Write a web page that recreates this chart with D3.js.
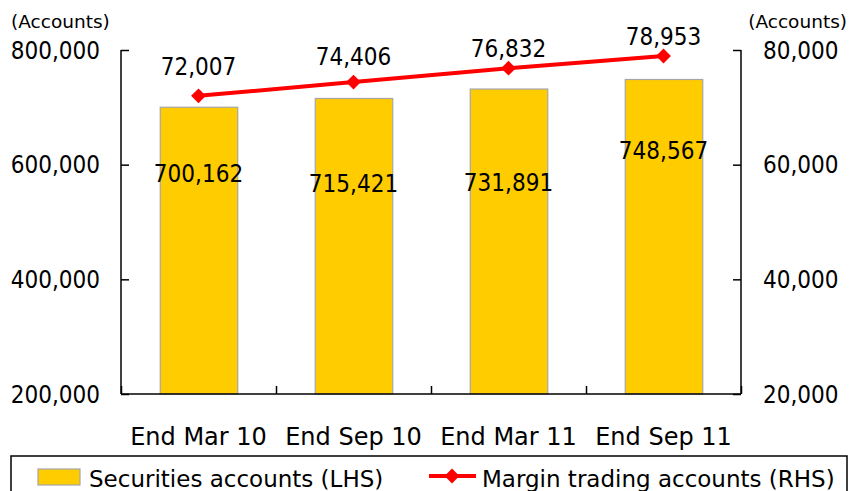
<!DOCTYPE html>
<html>
<head>
<meta charset="utf-8">
<script src="https://cdn.jsdelivr.net/npm/d3@7"></script>
<style>
  html, body { margin: 0; padding: 0; background: #fff; }
  svg { display: block; }
  text { fill: #000; }
</style>
</head>
<body>
<svg id="chart" width="849" height="491"></svg>
<script>
// ---- data ----
const categories = ["End Mar 10", "End Sep 10", "End Mar 11", "End Sep 11"];
const securitiesAccounts = [700162, 715421, 731891, 748567];
const marginAccounts = [72007, 74406, 76832, 78953];
const leftTicks = [200000, 400000, 600000, 800000];
const rightTicks = [20000, 40000, 60000, 80000];
const seriesNames = ["Securities accounts (LHS)", "Margin trading accounts (RHS)"];
const axisTitle = "(Accounts)";

// ---- layout ----
const svg = d3.select("#chart");
const plot = { left: 121, right: 741, top: 50, bottom: 394 };
const numFont = "'DejaVu Sans Condensed', 'DejaVu Sans', sans-serif";
const txtFont = "'DejaVu Sans', sans-serif";
const fmt = d3.format(",");

const x = d3.scaleBand().domain(categories).range([plot.left, plot.right]).paddingInner(0).paddingOuter(0);
const yL = d3.scaleLinear().domain([200000, 800000]).range([plot.bottom, plot.top]);
const yR = d3.scaleLinear().domain([20000, 80000]).range([plot.bottom, plot.top]);
const barW = x.bandwidth() * 0.5;

// bars
svg.append("g").selectAll("rect").data(securitiesAccounts).join("rect")
  .attr("x", (d, i) => x(categories[i]) + x.bandwidth() / 2 - barW / 2 + 0.5)
  .attr("y", d => yL(d))
  .attr("width", barW)
  .attr("height", d => plot.bottom - yL(d))
  .attr("fill", "#FFCC00")
  .attr("stroke", "#A6A6A6")
  .attr("stroke-width", 1.2);

// axes
const axL = svg.append("g").attr("transform", `translate(${plot.left},0)`)
  .call(d3.axisRight(yL).tickValues(leftTicks).tickSize(8).tickFormat(""));
const axR = svg.append("g").attr("transform", `translate(${plot.right},0)`)
  .call(d3.axisLeft(yR).tickValues(rightTicks).tickSize(8).tickFormat(""));
const axB = svg.append("g").attr("transform", `translate(0,${plot.bottom})`)
  .call(d3.axisTop(d3.scaleLinear().domain([0, 4]).range([plot.left, plot.right]))
    .tickValues([0, 1, 2, 3, 4]).tickSize(8).tickFormat(""));
[axL, axR, axB].forEach(g => {
  g.select(".domain").attr("stroke", "#000").attr("stroke-width", 1.5);
  g.selectAll(".tick line").attr("stroke", "#000").attr("stroke-width", 1.5);
});
axL.select(".domain").attr("d", `M0,${plot.top}V${plot.bottom}`);
axR.select(".domain").attr("d", `M0,${plot.top}V${plot.bottom}`);
axB.select(".domain").attr("d", `M${plot.left},0H${plot.right}`);

// left tick labels
svg.append("g").selectAll("text").data(leftTicks).join("text")
  .attr("x", 100).attr("y", d => yL(d)).attr("dy", "0.36em")
  .attr("text-anchor", "end")
  .style("font-family", numFont).style("font-size", "24px")
  .text(d => fmt(d));
// right tick labels
svg.append("g").selectAll("text").data(rightTicks).join("text")
  .attr("x", 763).attr("y", d => yR(d)).attr("dy", "0.36em")
  .attr("text-anchor", "start")
  .style("font-family", numFont).style("font-size", "24px")
  .text(d => fmt(d));

// axis titles
svg.append("text").attr("x", 11).attr("y", 28)
  .style("font-family", txtFont).style("font-size", "18.5px").text(axisTitle);
svg.append("text").attr("x", 847).attr("y", 28).attr("text-anchor", "end")
  .style("font-family", txtFont).style("font-size", "18.5px").text(axisTitle);

// category labels
svg.append("g").selectAll("text").data(categories).join("text")
  .attr("x", d => x(d) + x.bandwidth() / 2).attr("y", 445)
  .attr("text-anchor", "middle")
  .style("font-family", txtFont).style("font-size", "24px")
  .text(d => d);

// line
const cx = i => x(categories[i]) + x.bandwidth() / 2;
const line = d3.line().x((d, i) => cx(i)).y(d => yR(d));
svg.append("path").datum(marginAccounts).attr("d", line)
  .attr("fill", "none").attr("stroke", "#FF0000").attr("stroke-width", 4);
svg.append("g").selectAll("path").data(marginAccounts).join("path")
  .attr("transform", (d, i) => `translate(${cx(i)},${yR(d)}) rotate(45)`)
  .attr("d", d3.symbol().type(d3.symbolSquare).size(110))
  .attr("fill", "#FF0000");

// line value labels (manual offsets as in the original)
const lineLabelDy = [-21, -17, -11.5, -11];
svg.append("g").selectAll("text").data(marginAccounts).join("text")
  .attr("x", (d, i) => cx(i)).attr("y", (d, i) => yR(d) + lineLabelDy[i])
  .attr("text-anchor", "middle")
  .style("font-family", numFont).style("font-size", "24px")
  .text(d => fmt(d));

// bar value labels (manual offsets as in the original)
const barLabelDy = [75, 93.5, 102, 79.5];
svg.append("g").selectAll("text").data(securitiesAccounts).join("text")
  .attr("x", (d, i) => cx(i)).attr("y", (d, i) => yL(d) + barLabelDy[i])
  .attr("text-anchor", "middle")
  .style("font-family", numFont).style("font-size", "24px")
  .text(d => fmt(d));

// legend
const lg = svg.append("g");
lg.append("rect").attr("x", 11).attr("y", 456).attr("width", 836).attr("height", 50)
  .attr("fill", "none").attr("stroke", "#000").attr("stroke-width", 1.5);
lg.append("rect").attr("x", 38).attr("y", 469).attr("width", 42).attr("height", 16)
  .attr("fill", "#FFCC00").attr("stroke", "#A6A6A6").attr("stroke-width", 1.2);
lg.append("text").attr("x", 89).attr("y", 487)
  .style("font-family", txtFont).style("font-size", "23px").text(seriesNames[0]);
lg.append("line").attr("x1", 429).attr("x2", 476).attr("y1", 476).attr("y2", 476)
  .attr("stroke", "#FF0000").attr("stroke-width", 4);
lg.append("path").attr("transform", "translate(452,476) rotate(45)")
  .attr("d", d3.symbol().type(d3.symbolSquare).size(110)).attr("fill", "#FF0000");
lg.append("text").attr("x", 482).attr("y", 487)
  .style("font-family", txtFont).style("font-size", "23px").text(seriesNames[1]);
</script>
</body>
</html>
